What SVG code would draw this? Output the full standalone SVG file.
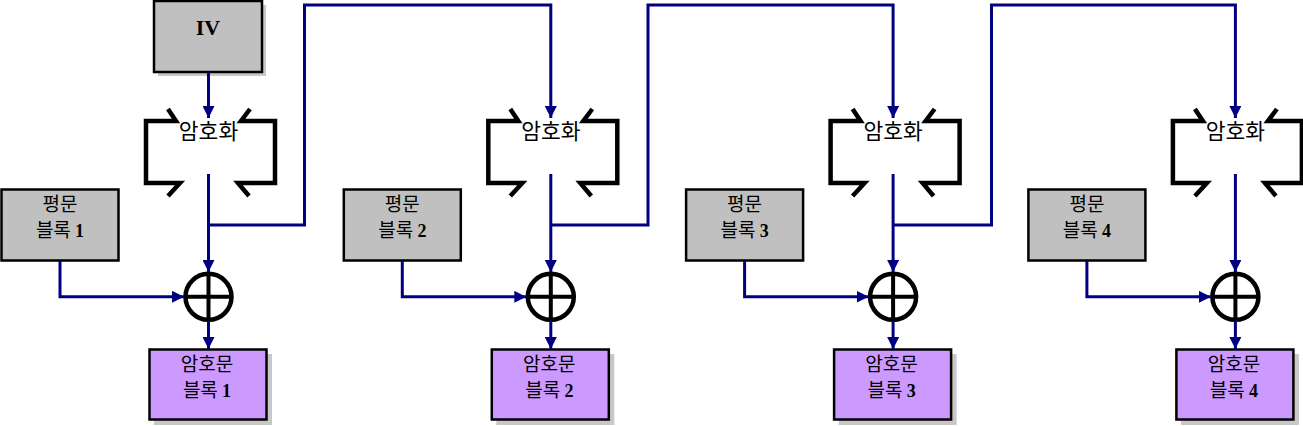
<svg xmlns="http://www.w3.org/2000/svg" width="1303" height="426" viewBox="0 0 1303 426">
<defs>
<style>
.box{stroke:#000;stroke-width:2.5}
.gray{fill:#C0C0C0}
.purple{fill:#CC99FF}
.shadow{fill:#C8C8C8}
.br{fill:none;stroke:#000;stroke-width:4.5;stroke-linejoin:miter}
.xor{fill:#fff;stroke:#000;stroke-width:4.5}
.con{fill:none;stroke:#000080;stroke-width:3;marker-end:url(#arr)}
.kr{font-family:"Noto Sans CJK KR","Noto Sans",sans-serif;text-anchor:middle;fill:#000}
.num{font-family:"Liberation Serif",serif;font-weight:bold;font-size:18px}
</style>
<marker id="arr" markerUnits="userSpaceOnUse" markerWidth="12" markerHeight="12" refX="12" refY="6" orient="auto">
<path d="M0,0 L12,6 L0,12 z" fill="#000080"/>
</marker>
</defs>
<rect width="1303" height="426" fill="#fff"/>

<g id="iv">
<rect class="shadow" x="158" y="5" width="108" height="71"/>
<rect class="box gray" x="154" y="1" width="108" height="71"/>
<text x="208" y="35" text-anchor="middle" font-family="Liberation Serif,serif" font-weight="bold" font-size="22">IV</text>
</g>

<g id="enc1">
<polyline class="br" points="168,109 176,121 146,121 146,183 180,183 168,196"/>
<polyline class="br" points="250,109 241,121 275,121 275,183 238,183 249,196"/>
<text class="kr" x="208.5" y="139" font-size="21.5">암호화</text>
</g>
<g id="enc2" transform="translate(342.3,0)">
<polyline class="br" points="168,109 176,121 146,121 146,183 180,183 168,196"/>
<polyline class="br" points="250,109 241,121 275,121 275,183 238,183 249,196"/>
<text class="kr" x="208.5" y="139" font-size="21.5">암호화</text>
</g>
<g id="enc3" transform="translate(684.6,0)">
<polyline class="br" points="168,109 176,121 146,121 146,183 180,183 168,196"/>
<polyline class="br" points="250,109 241,121 275,121 275,183 238,183 249,196"/>
<text class="kr" x="208.5" y="139" font-size="21.5">암호화</text>
</g>
<g id="enc4" transform="translate(1026.9,0)">
<polyline class="br" points="168,109 176,121 146,121 146,183 180,183 168,196"/>
<polyline class="br" points="250,109 241,121 275,121 275,183 238,183 249,196"/>
<text class="kr" x="208.5" y="139" font-size="21.5">암호화</text>
</g>

<g id="pt1">
<rect class="box gray" x="1.5" y="189.5" width="117" height="71"/>
<text class="kr" x="60" y="211" font-size="19">평문</text>
<text class="kr" x="60" y="237" font-size="19">블록 <tspan class="num">1</tspan></text>
</g>
<g id="pt2" transform="translate(342.3,0)">
<rect class="box gray" x="1.5" y="189.5" width="117" height="71"/>
<text class="kr" x="60" y="211" font-size="19">평문</text>
<text class="kr" x="60" y="237" font-size="19">블록 <tspan class="num">2</tspan></text>
</g>
<g id="pt3" transform="translate(684.6,0)">
<rect class="box gray" x="1.5" y="189.5" width="117" height="71"/>
<text class="kr" x="60" y="211" font-size="19">평문</text>
<text class="kr" x="60" y="237" font-size="19">블록 <tspan class="num">3</tspan></text>
</g>
<g id="pt4" transform="translate(1026.9,0)">
<rect class="box gray" x="1.5" y="189.5" width="117" height="71"/>
<text class="kr" x="60" y="211" font-size="19">평문</text>
<text class="kr" x="60" y="237" font-size="19">블록 <tspan class="num">4</tspan></text>
</g>

<g id="xor1">
<circle class="xor" cx="208.5" cy="296.8" r="23"/>
<path d="M185.5,296.8 H231.5 M208.5,273.8 V319.8" stroke="#000" stroke-width="4"/>
</g>
<g id="xor2" transform="translate(342.3,0)">
<circle class="xor" cx="208.5" cy="296.8" r="23"/>
<path d="M185.5,296.8 H231.5 M208.5,273.8 V319.8" stroke="#000" stroke-width="4"/>
</g>
<g id="xor3" transform="translate(684.6,0)">
<circle class="xor" cx="208.5" cy="296.8" r="23"/>
<path d="M185.5,296.8 H231.5 M208.5,273.8 V319.8" stroke="#000" stroke-width="4"/>
</g>
<g id="xor4" transform="translate(1026.9,0)">
<circle class="xor" cx="208.5" cy="296.8" r="23"/>
<path d="M185.5,296.8 H231.5 M208.5,273.8 V319.8" stroke="#000" stroke-width="4"/>
</g>

<g id="ct1">
<rect class="shadow" x="154" y="354" width="118" height="71"/>
<rect class="box purple" x="149.5" y="349.5" width="117" height="70"/>
<text class="kr" x="207" y="371" font-size="19">암호문</text>
<text class="kr" x="207" y="397" font-size="19">블록 <tspan class="num">1</tspan></text>
</g>
<g id="ct2" transform="translate(342.3,0)">
<rect class="shadow" x="154" y="354" width="118" height="71"/>
<rect class="box purple" x="149.5" y="349.5" width="117" height="70"/>
<text class="kr" x="207" y="371" font-size="19">암호문</text>
<text class="kr" x="207" y="397" font-size="19">블록 <tspan class="num">2</tspan></text>
</g>
<g id="ct3" transform="translate(684.6,0)">
<rect class="shadow" x="154" y="354" width="118" height="71"/>
<rect class="box purple" x="149.5" y="349.5" width="117" height="70"/>
<text class="kr" x="207" y="371" font-size="19">암호문</text>
<text class="kr" x="207" y="397" font-size="19">블록 <tspan class="num">3</tspan></text>
</g>
<g id="ct4" transform="translate(1026.9,0)">
<rect class="shadow" x="154" y="354" width="118" height="71"/>
<rect class="box purple" x="149.5" y="349.5" width="117" height="70"/>
<text class="kr" x="207" y="371" font-size="19">암호문</text>
<text class="kr" x="207" y="397" font-size="19">블록 <tspan class="num">4</tspan></text>
</g>

<g id="connectors">
<path class="con" d="M208.5,72 V118"/>
<path class="con" d="M208.5,174 V272"/>
<path class="con" d="M60,261 V296.8 H184"/>
<path class="con" d="M208.5,321 V349"/>
<path class="con" d="M208.5,225 H304.5 V5 H550.8 V118"/>

<path class="con" d="M550.8,174 V272"/>
<path class="con" d="M402.3,261 V296.8 H526.3"/>
<path class="con" d="M550.8,321 V349"/>
<path class="con" d="M550.8,225 H648 V5 H893.1 V118"/>

<path class="con" d="M893.1,174 V272"/>
<path class="con" d="M744.6,261 V296.8 H868.6"/>
<path class="con" d="M893.1,321 V349"/>
<path class="con" d="M893.1,225 H991.5 V5 H1235.4 V118"/>

<path class="con" d="M1235.4,174 V272"/>
<path class="con" d="M1086.9,261 V296.8 H1210.9"/>
<path class="con" d="M1235.4,321 V349"/>
</g>
</svg>
